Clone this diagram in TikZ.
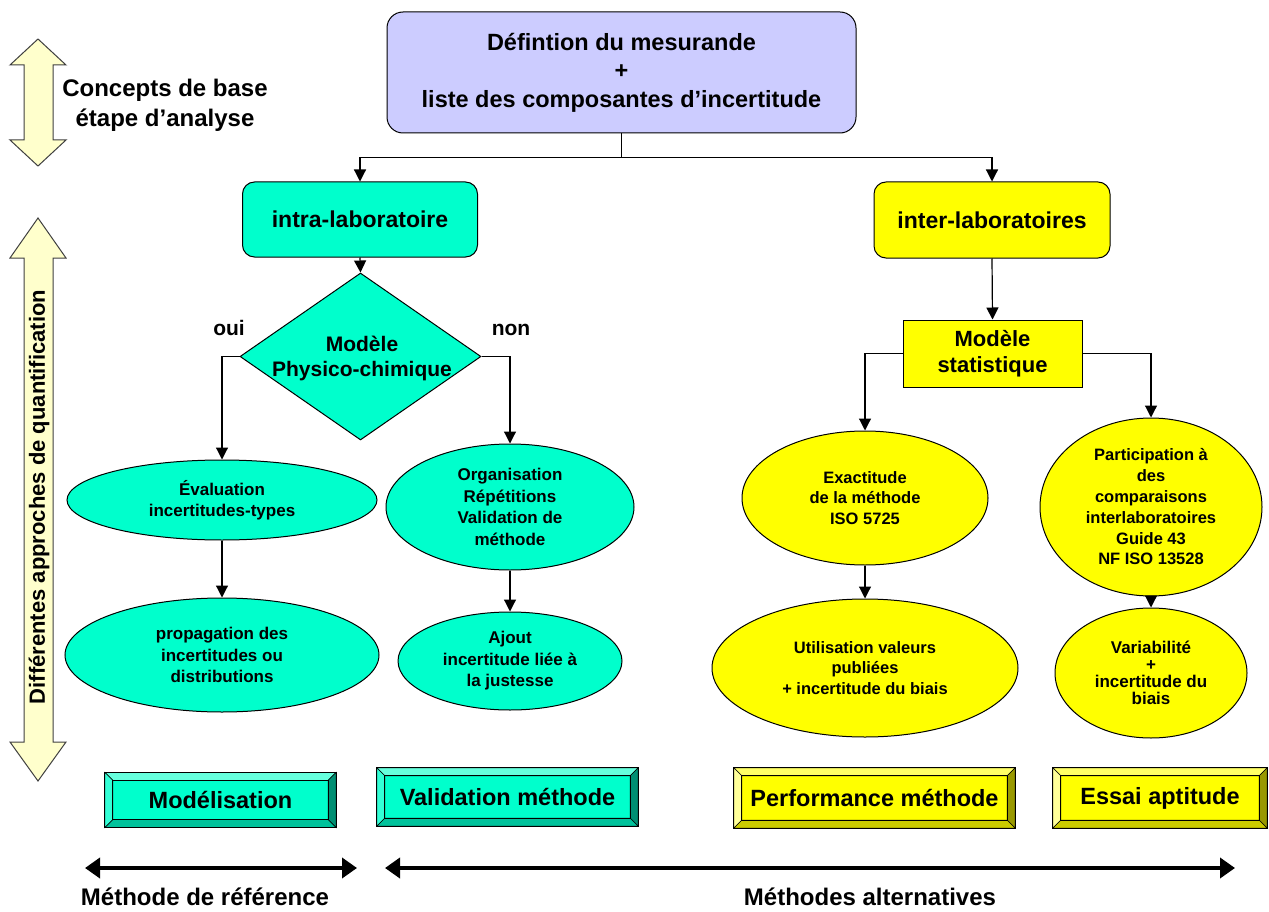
\documentclass[tikz,border=0pt]{standalone}
\usepackage{fontspec}
\setmainfont{Liberation Sans}
\usetikzlibrary{shapes.geometric,arrows.meta,calc}
\definecolor{tealface}{HTML}{00FFCC}
\definecolor{tealtop}{HTML}{66FFDD}
\definecolor{tealleft}{HTML}{33FFD6}
\definecolor{tealright}{HTML}{008F73}
\definecolor{tealbot}{HTML}{00C29B}
\definecolor{yelface}{HTML}{FFFF00}
\definecolor{yeltop}{HTML}{FFFF66}
\definecolor{yelleft}{HTML}{FFFF99}
\definecolor{yelright}{HTML}{999900}
\definecolor{yelbot}{HTML}{CCCC00}
\definecolor{lav}{HTML}{CCCCFF}
\definecolor{cream}{HTML}{FFFFCC}
\newcommand\fsz[2]{\fontsize{#1}{#2}\selectfont}
\newcommand\bvw{8}
\newcommand\bevelbox[6]{%
  \node[draw=none, fill=#5face, minimum width=#3, minimum height=#4, inner sep=0pt] (#1) at #2 {};
  \filldraw[fill=#5top, bevline] (#1.north west) -- (#1.north east) -- ($(#1.north east)+(-\bvw,\bvw)$) -- ($(#1.north west)+(\bvw,\bvw)$) -- cycle;
  \filldraw[fill=#5left, bevline] (#1.north west) -- ($(#1.north west)+(\bvw,\bvw)$) -- ($(#1.south west)+(\bvw,-\bvw)$) -- (#1.south west) -- cycle;
  \filldraw[fill=#5right, bevline] (#1.north east) -- (#1.south east) -- ($(#1.south east)+(-\bvw,-\bvw)$) -- ($(#1.north east)+(-\bvw,\bvw)$) -- cycle;
  \filldraw[fill=#5bot, bevline] (#1.south west) -- (#1.south east) -- ($(#1.south east)+(-\bvw,-\bvw)$) -- ($(#1.south west)+(\bvw,-\bvw)$) -- cycle;
  \draw[line width=1pt] ($(#1.north west)+(\bvw,\bvw)$) rectangle ($(#1.south east)+(-\bvw,-\bvw)$);
  \draw[line width=1.2pt] (#1.north west) rectangle (#1.south east);
  \node[boxtext] (#1t) at (#1.center) {#6};
}
\begin{document}
\begin{tikzpicture}[x=1pt,y=-1pt,
  every node/.style={font=\bfseries},
  bevline/.style={draw=black, line width=0.5pt},
  boxtext/.style={font=\bfseries\fsz{23.5}{26}},
  arr/.style={-{Triangle[width=12pt,length=12pt]}, line width=1.2pt},
  ln/.style={line width=1.2pt},
  bigarr/.style={{Triangle[width=20pt,length=15pt]}-{Triangle[width=20pt,length=15pt]}, line width=4pt},
  rbox/.style={draw, line width=1pt, rounded corners=12pt, inner sep=0pt, align=center},
  ell/.style={ellipse, draw, line width=1pt, inner sep=0pt, align=center},
  tealell/.style={ell, fill=tealface, font=\bfseries\fsz{17}{21.5}},
  yelell/.style={ell, fill=yelface, font=\bfseries\fsz{16.5}{20.8}},
  blockarr/.style={fill=cream, draw=black!75, line width=1pt}
]
\useasboundingbox (0,0) rectangle (1269,912);

% left block arrows
\filldraw[blockarr] (38,39) -- (66,65) -- (53,65) -- (53,140) -- (66,140) -- (38,166) -- (10,140) -- (24,140) -- (24,65) -- (10,65) -- cycle;
\node[font=\bfseries\fsz{24}{30}, align=center] (concepts) at (165,105) {Concepts de base\\ étape d’analyse};
\filldraw[blockarr] (38,218) -- (66,258) -- (53,258) -- (53,742) -- (66,742) -- (38,781) -- (10,742) -- (24,742) -- (24,258) -- (10,258) -- cycle;
\node[font=\bfseries\fsz{22}{24}, rotate=90] (approches) at (39,497) {Différentes approches de quantification};

% top box
\node[rbox, rounded corners=16pt, fill=lav, minimum width=469pt, minimum height=121pt, font=\bfseries\fsz{23.5}{28.5}] (top) at (621.5,72.5) {Défintion du mesurande\\+\\liste des composantes d’incertitude};

% intra / inter
\node[rbox, fill=tealface, minimum width=235pt, minimum height=75pt, font=\bfseries\fsz{23}{26}] (intra) at (360,219.5) {intra-laboratoire};
\node[rbox, fill=yelface, minimum width=236pt, minimum height=76pt, font=\bfseries\fsz{23}{26}] (inter) at (992,220) {inter-laboratoires};

\draw[ln] (top.south) -- ++(0,24) coordinate (j);
\draw[arr] (j) -| (intra.north);
\draw[arr] (j) -| (inter.north);

% diamond
\node[diamond, draw, line width=1pt, fill=tealface, inner sep=0pt, minimum width=241pt, minimum height=167pt] (dia) at (360.5,356.5) {};
\node[font=\bfseries\fsz{21}{25}, align=center] (diatxt) at (362,358) {Modèle\\Physico-chimique};
\draw[arr] (intra.south) -- (dia.north);
\node[font=\bfseries\fsz{21}{22}] (oui) at (229,328) {oui};
\node[font=\bfseries\fsz{21}{22}] (non) at (511,330) {non};

% teal ellipses
\node[tealell, minimum width=310pt, minimum height=80pt] (eval) at (222,500) {Évaluation\\incertitudes-types};
\node[tealell, minimum width=314pt, minimum height=114pt] (prop) at (222,655) {propagation des\\incertitudes ou\\distributions};
\node[tealell, minimum width=248pt, minimum height=126pt] (org) at (510,507) {Organisation\\Répétitions\\Validation de\\méthode};
\node[tealell, minimum width=224pt, minimum height=98pt] (ajout) at (510,661) {Ajout\\incertitude liée à\\la justesse};

\draw[arr] (dia.west) -| (eval.north);
\draw[arr] (dia.east) -| (org.north);
\draw[arr] (eval.south) -- (prop.north);
\draw[arr] (org.south) -- (ajout.north);

% statistical model
\node[draw, line width=1pt, fill=yelface, minimum width=179pt, minimum height=67pt, inner sep=0pt, align=center, font=\bfseries\fsz{22}{26}] (stat) at (992.5,353.5) {Modèle\\statistique};
\draw[arr] (inter.south) -- (stat.north);

% yellow ellipses
\node[yelell, minimum width=246pt, minimum height=134pt] (exact) at (865,498) {Exactitude\\de la méthode\\ISO 5725};
\node[yelell, minimum width=306pt, minimum height=138pt] (util) at (865,668) {Utilisation valeurs\\publiées\\+ incertitude du biais};
\node[yelell, minimum width=222pt, minimum height=178pt] (partic) at (1151,507) {Participation à\\des\\comparaisons\\interlaboratoires\\Guide 43\\NF ISO 13528};
\node[yelell, minimum width=192pt, minimum height=130pt, font=\bfseries\fsz{17}{17}] (vari) at (1151,673) {Variabilité\\+\\incertitude du\\biais};

\draw[arr] (stat.west) -| (exact.north);
\draw[arr] (stat.east) -| (partic.north);
\draw[arr] (exact.south) -- (util.north);
\draw[arr] (partic.south) -- (vari.north);

% bevel boxes
\bevelbox{modl}{(220.5,800)}{231pt}{55pt}{teal}{Modélisation}
\bevelbox{valid}{(507.5,797)}{261pt}{58pt}{teal}{Validation méthode}
\bevelbox{perf}{(874.5,798)}{281pt}{60pt}{yel}{Performance méthode}
\bevelbox{essai}{(1160,798)}{214pt}{60pt}{yel}{Essai aptitude}

% bottom arrows
\coordinate (a1) at (85,868);
\coordinate (a2) at (357,868);
\coordinate (b1) at (385,868);
\coordinate (b2) at (1235,868);
\draw[bigarr] (a1) -- (a2);
\draw[bigarr] (b1) -- (b2);
\node[font=\bfseries\fsz{24}{26}] (mref) at (205,897) {Méthode de référence};
\node[font=\bfseries\fsz{24}{26}] (malt) at (870,897) {Méthodes alternatives};
\end{tikzpicture}
\end{document}
